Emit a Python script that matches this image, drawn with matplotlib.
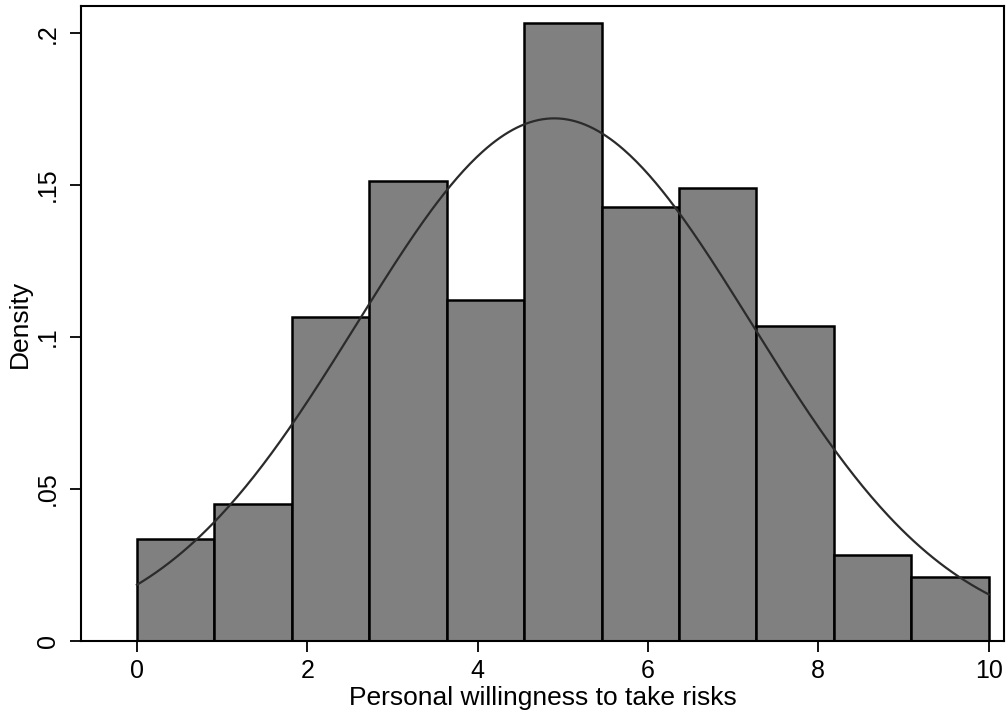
import numpy as np
import matplotlib.pyplot as plt

plt.rcParams['font.family'] = ['Liberation Sans', 'DejaVu Sans']

# histogram (density), 11 bins between 0 and 10
bin_lo = 0
bin_hi = 10
n_bins = 11
density = [0.0336, 0.0451, 0.1067, 0.1513, 0.1122, 0.2033, 0.1429, 0.1490, 0.1036, 0.0282, 0.0212]

# normal overlay params
mu = 4.9
sd = 2.32

xlabel = 'Personal willingness to take risks'
ylabel = 'Density'
xticks = [0, 2, 4, 6, 8, 10]
yticks = [0, 0.05, 0.1, 0.15, 0.2]
ytick_labels = ['0', '.05', '.1', '.15', '.2']

fig = plt.figure(figsize=(10.06, 7.15), dpi=100)
ax = fig.add_axes([0.0805, 0.1035, 0.9175, 0.888])

edges = np.linspace(bin_lo, bin_hi, n_bins + 1)
w = edges[1] - edges[0]
ax.bar(edges[:-1], density, width=w, align='edge', color='#808080',
       edgecolor='black', linewidth=1.8)

xs = np.linspace(bin_lo, bin_hi, 400)
ys = np.exp(-0.5 * ((xs - mu) / sd) ** 2) / (sd * np.sqrt(2 * np.pi))
ax.plot(xs, ys, color='#2b2b2b', linewidth=1.6)

ax.set_xlim(-0.657, 10.18)
ax.set_ylim(0, 0.2089)
ax.set_xticks(xticks)
ax.set_yticks(yticks)
ax.set_yticklabels(ytick_labels, rotation=90, va='center')
ax.tick_params(labelsize=18, length=8, width=1.3, color='black')
ax.tick_params(axis='x', pad=5)
ax.tick_params(axis='y', pad=7)
ax.set_xlabel(xlabel, fontsize=19, labelpad=2)
ax.set_ylabel(ylabel, fontsize=19, labelpad=3)
for s in ax.spines.values():
    s.set_linewidth(1.5)

fig.savefig('out.png', dpi=100)
